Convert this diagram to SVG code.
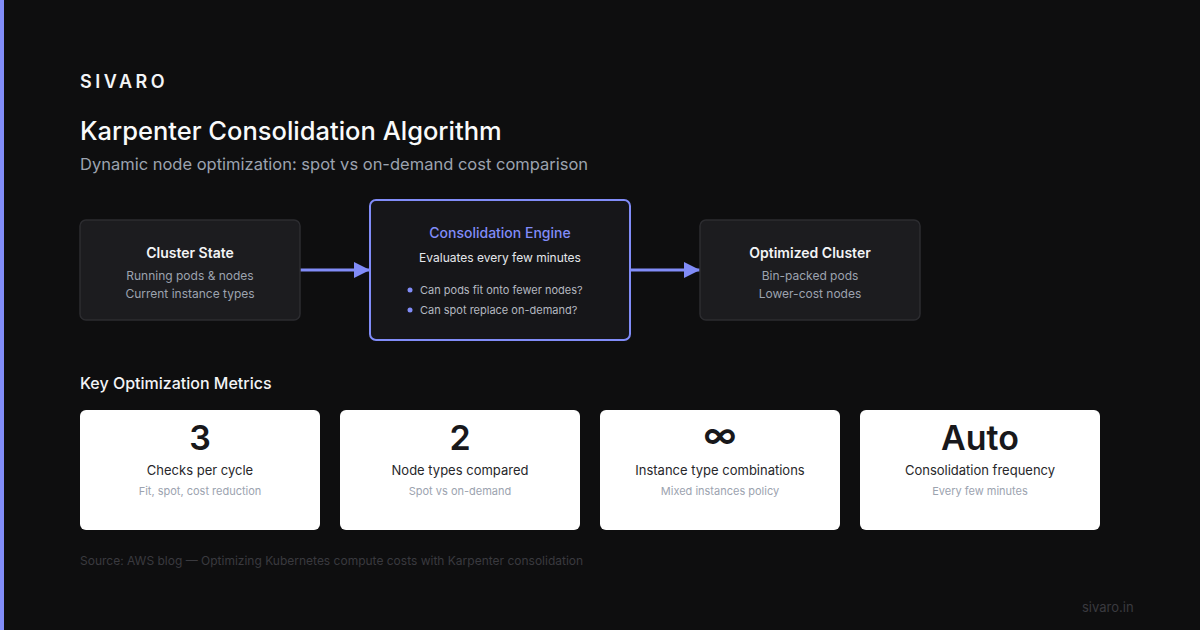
<svg xmlns="http://www.w3.org/2000/svg" width="1200" height="630" viewBox="0 0 1200 630">
<defs>
<style>
text{font-family:Inter,"Liberation Sans",sans-serif}
.box{fill:#1c1c1f;stroke:#2c2c30;stroke-width:1.5}
.nt{font-size:14px;font-weight:600;fill:#f3f4f6;text-anchor:middle}
.ns{font-size:12px;fill:#9ca3af;text-anchor:middle}
.card{fill:#ffffff}
.big{font-size:34px;font-weight:600;fill:#18181b;text-anchor:middle}
.cl{font-size:13px;fill:#27272a;text-anchor:middle}
.cs{font-size:11px;fill:#9ca3af;text-anchor:middle}
.conn{stroke:#818cf8;stroke-width:3;fill:none}
</style>
<marker id="ah" viewBox="0 0 10 10" refX="10" refY="5" markerWidth="5.5" markerHeight="5.5" markerUnits="strokeWidth" orient="auto"><path d="M0,0L10,5L0,10z" fill="#818cf8"/></marker>
</defs>
<rect width="1200" height="630" fill="#0e0e0f"/>
<rect x="0" y="0" width="4" height="630" fill="#818cf8"/>
<text x="80" y="88" font-size="18" font-weight="600" fill="#f3f4f6" letter-spacing="3.5">SIVARO</text>
<text x="80" y="140" font-size="25.5" font-weight="500" fill="#f9fafb">Karpenter Consolidation Algorithm</text>
<text x="80" y="170" font-size="16.5" fill="#9ca3af">Dynamic node optimization: spot vs on-demand cost comparison</text>
<g id="connectors">
<line class="conn" x1="300" y1="270" x2="370" y2="270" marker-end="url(#ah)"/>
<line class="conn" x1="630" y1="270" x2="700" y2="270" marker-end="url(#ah)"/>
</g>
<g id="cluster-state">
<rect class="box" x="80" y="220" width="220" height="100" rx="6"/>
<text class="nt" x="190" y="258">Cluster State</text>
<text class="ns" x="190" y="280">Running pods &amp; nodes</text>
<text class="ns" x="190" y="298">Current instance types</text>
</g>
<g id="consolidation-engine">
<rect x="370" y="200" width="260" height="140" rx="6" fill="#161619" stroke="#818cf8" stroke-width="2"/>
<text x="500" y="238" font-size="14" font-weight="500" fill="#818cf8" text-anchor="middle">Consolidation Engine</text>
<text x="500" y="262" font-size="12" fill="#e5e7eb" text-anchor="middle">Evaluates every few minutes</text>
<circle cx="410" cy="290" r="2.5" fill="#818cf8"/>
<text x="420" y="294" font-size="11" fill="#b4b8c0">Can pods fit onto fewer nodes?</text>
<circle cx="410" cy="310" r="2.5" fill="#818cf8"/>
<text x="420" y="314" font-size="11" fill="#b4b8c0">Can spot replace on-demand?</text>
</g>
<g id="optimized-cluster">
<rect class="box" x="700" y="220" width="220" height="100" rx="6"/>
<text class="nt" x="810" y="258">Optimized Cluster</text>
<text class="ns" x="810" y="280">Bin-packed pods</text>
<text class="ns" x="810" y="298">Lower-cost nodes</text>
</g>
<text x="80" y="389" font-size="16" font-weight="500" fill="#f3f4f6">Key Optimization Metrics</text>
<g id="metric-checks">
<rect class="card" x="80" y="410" width="240" height="120" rx="6"/>
<text class="big" x="200" y="450">3</text>
<text class="cl" x="200" y="475">Checks per cycle</text>
<text class="cs" x="200" y="495">Fit, spot, cost reduction</text>
</g>
<g id="metric-node-types">
<rect class="card" x="340" y="410" width="240" height="120" rx="6"/>
<text class="big" x="460" y="450">2</text>
<text class="cl" x="460" y="475">Node types compared</text>
<text class="cs" x="460" y="495">Spot vs on-demand</text>
</g>
<g id="metric-instance">
<rect class="card" x="600" y="410" width="240" height="120" rx="6"/>
<text class="big" x="720" y="447" font-size="27">∞</text>
<text class="cl" x="720" y="475">Instance type combinations</text>
<text class="cs" x="720" y="495">Mixed instances policy</text>
</g>
<g id="metric-frequency">
<rect class="card" x="860" y="410" width="240" height="120" rx="6"/>
<text class="big" x="980" y="450">Auto</text>
<text class="cl" x="980" y="475">Consolidation frequency</text>
<text class="cs" x="980" y="495">Every few minutes</text>
</g>
<text x="80" y="565" font-size="12" fill="#3a3a3f">Source: AWS blog — Optimizing Kubernetes compute costs with Karpenter consolidation</text>
<text x="1082" y="612" font-size="13" fill="#3a3a3f">sivaro.in</text>
</svg>
